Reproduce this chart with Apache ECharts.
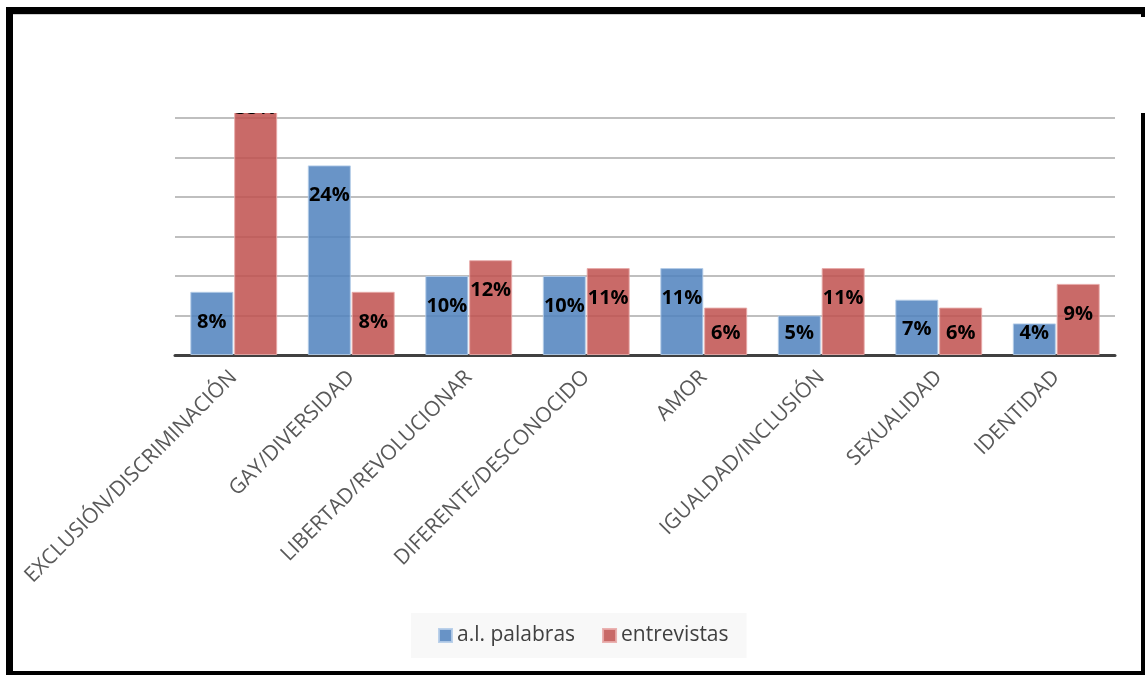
<!DOCTYPE html>
<html>
<head>
<meta charset="utf-8">
<script src="https://cdn.jsdelivr.net/npm/echarts@6/dist/echarts.min.js"></script>
<style>
  html, body { margin: 0; padding: 0; background: #fff; }
  #chart { width: 1145px; height: 675px; }
</style>
</head>
<body>
<div id="chart"></div>
<script>
// categories and values (percent)
var categories = [
  'EXCLUSIÓN/DISCRIMINACIÓN',
  'GAY/DIVERSIDAD',
  'LIBERTAD/REVOLUCIONAR',
  'DIFERENTE/DESCONOCIDO',
  'AMOR',
  'IGUALDAD/INCLUSIÓN',
  'SEXUALIDAD',
  'IDENTIDAD'
];
var palabras = [8, 24, 10, 10, 11, 5, 7, 4];
var entrevistas = [35, 8, 12, 11, 6, 11, 6, 9];
var seriesNames = ['a.l. palabras', 'entrevistas'];

// short bars get the label pushed up from the baseline, like in the original
function withLabels(values) {
  return values.map(function (v) {
    if (v >= 7) {
      return { value: v, label: { position: 'insideTop', distance: 20 } };
    }
    return { value: v, label: { position: 'insideBottom', distance: 12 } };
  });
}

var labelStyle = {
  show: true,
  formatter: '{c}%',
  color: '#000',
  fontFamily: 'Open Sans',
  fontWeight: 'bold',
  fontSize: 20
};

var chart = echarts.init(document.getElementById('chart'));
chart.setOption({
  animation: false,
  backgroundColor: '#fff',
  grid: {
    left: 175,
    right: 30,
    top: 39,
    bottom: 320
  },
  legend: {
    left: 411,
    top: 613,
    data: seriesNames,
    backgroundColor: '#f8f8f8',
    padding: [12, 18, 12, 27],
    itemWidth: 13,
    itemHeight: 13,
    itemGap: 27,
    icon: 'rect',
    textStyle: {
      color: '#404040',
      fontFamily: 'Open Sans',
      fontSize: 21
    }
  },
  xAxis: {
    type: 'category',
    data: categories,
    axisTick: { show: false },
    axisLine: {
      lineStyle: { color: '#404040', width: 3 }
    },
    axisLabel: {
      rotate: 45,
      interval: 0,
      margin: 19,
      color: '#595959',
      fontFamily: 'Open Sans',
      fontSize: 21
    }
  },
  yAxis: {
    type: 'value',
    min: 0,
    max: 40,
    interval: 5,
    axisLabel: { show: false },
    axisLine: { show: false },
    axisTick: { show: false },
    splitLine: {
      lineStyle: { color: '#bfbfbf', width: 2 }
    }
  },
  series: [
    {
      name: seriesNames[0],
      type: 'bar',
      barWidth: 43,
      barGap: '2%',
      data: withLabels(palabras),
      label: labelStyle,
      itemStyle: {
        color: 'rgba(79,129,189,0.85)',
        borderColor: 'rgba(180,204,232,0.9)',
        borderWidth: 1
      }
    },
    {
      name: seriesNames[1],
      type: 'bar',
      barWidth: 43,
      barGap: '2%',
      data: withLabels(entrevistas),
      label: labelStyle,
      itemStyle: {
        color: 'rgba(192,80,77,0.85)',
        borderColor: 'rgba(232,170,168,0.9)',
        borderWidth: 1
      }
    }
  ],
  graphic: [
    // white block that hides the top of the plot
    { type: 'rect', z: 100, shape: { x: 13, y: 14, width: 1132, height: 99 }, style: { fill: '#fff' } },
    { type: 'line', z: 101, shape: { x1: 13, y1: 14.5, x2: 1141, y2: 14.5 }, style: { stroke: '#d0d0d0', lineWidth: 1 } },
    // frame
    { type: 'rect', z: 102, shape: { x: 6, y: 7, width: 1139, height: 7 }, style: { fill: '#000' } },
    { type: 'rect', z: 102, shape: { x: 6, y: 7, width: 7, height: 668 }, style: { fill: '#000' } },
    { type: 'rect', z: 102, shape: { x: 6, y: 671, width: 1139, height: 4 }, style: { fill: '#000' } },
    { type: 'rect', z: 102, shape: { x: 1141, y: 7, width: 4, height: 10 }, style: { fill: '#000' } },
    { type: 'rect', z: 102, shape: { x: 1141, y: 113, width: 4, height: 562 }, style: { fill: '#000' } }
  ]
});
</script>
</body>
</html>
